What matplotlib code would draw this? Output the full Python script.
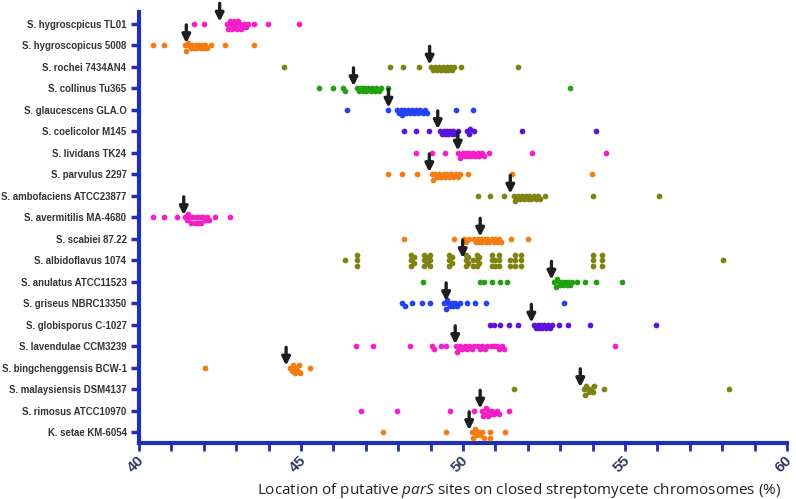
import numpy as np
import matplotlib
matplotlib.use('Agg')
import matplotlib.pyplot as plt

plt.rcParams['font.family'] = ['Liberation Sans', 'DejaVu Sans']
plt.rcParams['mathtext.fontset'] = 'custom'
plt.rcParams['mathtext.rm'] = 'Open Sans'
plt.rcParams['mathtext.it'] = 'Open Sans:italic'

strains = ['S. hygroscpicus TL01', 'S. hygroscopicus 5008', 'S. rochei 7434AN4',
           'S. collinus Tu365', 'S. glaucescens GLA.O', 'S. coelicolor M145',
           'S. lividans TK24', 'S. parvulus 2297', 'S. ambofaciens ATCC23877',
           'S. avermitilis MA-4680', 'S. scabiei 87.22', 'S. albidoflavus 1074',
           'S. anulatus ATCC11523', 'S. griseus NBRC13350', 'S. globisporus C-1027',
           'S. lavendulae CCM3239', 'S. bingchenggensis BCW-1', 'S. malaysiensis DSM4137',
           'S. rimosus ATCC10970', 'K. setae KM-6054']

MAG, ORA, OLI, GRN, BLU, PUR = '#f51fc8', '#f57c12', '#7f8312', '#23a012', '#2243f2', '#5c14dc'
colors = [MAG, ORA, OLI, GRN, BLU, PUR, MAG, ORA, OLI, MAG,
          ORA, OLI, GRN, BLU, PUR, MAG, ORA, OLI, MAG, ORA]

# parS site locations (%) per strain
tl01 = [41.69, 42.02, 42.72, 42.76, 42.80, 42.85, 42.88, 42.92, 42.95, 43.0, 43.03, 43.07,
        43.12, 43.15, 43.2, 43.25, 43.3, 43.35, 43.56, 43.97, 44.93]
h5008 = [40.42, 40.76, 41.42, 41.46, 41.5, 41.55, 41.6, 41.65, 41.7, 41.75, 41.8, 41.85,
         41.9, 41.95, 42.0, 42.05, 42.1, 42.23, 42.65, 43.56]
rochei = [44.48, 47.75, 48.16, 48.64, 49.02, 49.08, 49.13, 49.2, 49.26, 49.32, 49.38, 49.45,
          49.5, 49.55, 49.6, 49.65, 49.72, 49.95, 51.70]
collinus = [45.57, 45.98, 46.3, 46.35, 46.74, 46.8, 46.85, 46.9, 46.95, 47.02, 47.08, 47.15,
            47.2, 47.27, 47.33, 47.4, 47.47, 47.70, 53.31]
glauc = [46.42, 47.67, 47.97, 48.02, 48.08, 48.12, 48.18, 48.23, 48.3, 48.35, 48.42, 48.48,
         48.55, 48.6, 48.68, 48.75, 48.82, 48.88, 49.78, 50.30]
coeli = [48.17, 48.55, 48.94, 49.3, 49.35, 49.4, 49.45, 49.5, 49.55, 49.6, 49.65, 49.7, 49.76,
         49.86, 50.12, 50.2, 50.22, 50.35, 51.82, 54.10]
livid = [48.56, 49.04, 49.45, 49.86, 49.9, 49.95, 50.0, 50.05, 50.1, 50.15, 50.2, 50.25, 50.3,
         50.38, 50.45, 50.5, 50.58, 50.64, 50.79, 52.13, 54.41]
parv = [47.68, 48.12, 48.58, 49.04, 49.08, 49.15, 49.2, 49.27, 49.33, 49.4, 49.45, 49.5, 49.58,
        49.63, 49.7, 49.78, 49.85, 49.92, 50.14, 51.51, 53.97]
ambo = [50.45, 50.84, 51.25, 51.56, 51.6, 51.65, 51.7, 51.75, 51.82, 51.88, 51.95, 52.0, 52.05,
        52.1, 52.18, 52.25, 52.32, 52.38, 52.54, 54.01, 56.04]
averm = [40.42, 40.76, 41.17, 41.43, 41.48, 41.52, 41.58, 41.62, 41.68, 41.72, 41.78, 41.82,
         41.88, 41.92, 41.98, 42.05, 42.1, 42.15, 42.36, 42.80]
scab = [48.17, 49.71, 50.02, 50.1, 50.2, 50.33, 50.4, 50.45, 50.5, 50.55, 50.6, 50.65, 50.7,
        50.75, 50.8, 50.88, 50.95, 51.0, 51.05, 51.1, 51.18, 51.49, 52.02]
albido = [46.35, 46.73, 46.73, 46.73, 48.40, 48.40, 48.40, 48.48, 48.48, 48.80, 48.80, 48.80,
          48.88, 48.88, 48.97, 48.97, 48.97, 49.58, 49.58, 49.58, 49.65, 49.65, 50.08, 50.08,
          50.08, 50.15, 50.15, 50.30, 50.30, 50.42, 50.42, 50.42, 50.50, 50.50, 50.90, 50.90,
          50.90, 51.00, 51.00, 51.10, 51.10, 51.10, 51.45, 51.45, 51.62, 51.62, 51.62, 51.80,
          51.80, 51.80, 54.01, 54.01, 54.01, 54.29, 54.29, 54.29, 58.04]
anul = [48.76, 50.53, 50.66, 50.89, 51.13, 51.36, 52.82, 52.86, 52.9, 52.95, 53.0, 53.05, 53.1,
        53.15, 53.2, 53.25, 53.3, 53.36, 53.52, 53.77, 54.10, 54.91]
gris = [48.12, 48.2, 48.42, 48.73, 48.99, 49.42, 49.46, 49.5, 49.55, 49.6, 49.65, 49.7, 49.75,
        49.82, 49.9, 50.12, 50.38, 50.72, 53.11]
globi = [50.82, 50.95, 51.15, 51.41, 51.69, 52.2, 52.25, 52.3, 52.35, 52.4, 52.45, 52.5, 52.55,
         52.62, 52.68, 52.75, 52.95, 53.24, 53.92, 55.97]
lavend = [46.71, 47.22, 48.35, 49.04, 49.09, 49.32, 49.47, 49.78, 49.82, 49.87, 49.92, 49.97,
          50.05, 50.12, 50.2, 50.28, 50.35, 50.45, 50.52, 50.6, 50.68, 50.75, 50.85, 50.95,
          51.05, 51.12, 51.2, 51.28, 54.68]
bing = [42.05, 44.67, 44.72, 44.76, 44.8, 44.85, 44.9, 44.94, 44.98, 45.27]
malay = [51.58, 53.72, 53.76, 53.8, 53.85, 53.9, 53.95, 54.0, 54.03, 54.34, 58.20]
rimo = [46.86, 47.96, 49.61, 50.33, 50.59, 50.63, 50.68, 50.72, 50.76, 50.8, 50.85, 50.9,
        50.95, 51.05, 51.1, 51.43]
setae = [47.52, 49.48, 50.28, 50.32, 50.36, 50.4, 50.46, 50.52, 50.6, 50.64, 50.84, 50.84, 51.31]

sites = [tl01, h5008, rochei, collinus, glauc, coeli, livid, parv, ambo, averm,
         scab, albido, anul, gris, globi, lavend, bing, malay, rimo, setae]

# arrow positions (%)
arrows = [42.49, 41.46, 48.97, 46.62, 47.70, 49.22, 49.84, 48.96, 51.46, 41.38,
          50.53, 49.99, 52.73, 49.48, 52.11, 49.76, 44.54, 53.62, 50.53, 50.19]

xticks = [40, 45, 50, 55, 60]

W, H = 796, 499
fig = plt.figure(figsize=(W / 100, H / 100), dpi=100)
L, R, B, T = 139 / W, 787 / W, 1 - 443 / H, 1 - 12 / H
ax = fig.add_axes([L, B, R - L, T - B])

n = len(strains)
ylo, yhi = n - 0.5, -0.55
px_x = (R - L) * W / 20.0
px_y = (T - B) * H / (ylo - yhi)
gap = 3.2   # min distance between dot centres, px (dots may overlap a bit)
step = 2.8  # vertical step, px


def swarm(vals):
    # loose beeswarm: nudge overlapping dots up/down, at most 2 layers each side
    placed = []
    offs = []
    for v in vals:
        best = 0.0
        for k in range(5):
            s = (k + 1) // 2 * (1 if k % 2 else -1)
            dy = s * step
            if all((abs(v - pv) * px_x) ** 2 + (dy - pdy) ** 2 >= gap ** 2 for pv, pdy in placed):
                best = dy
                break
        placed.append((v, best))
        offs.append(best / px_y)
    return np.array(offs)


for i, vals in enumerate(sites):
    v = np.array(vals)
    y = i + swarm(vals)
    ax.scatter(v, y, s=17, color=colors[i], linewidths=0, zorder=3)
    ax.annotate('', xy=(arrows[i], i - 0.1), xytext=(arrows[i], i - 0.95),
                arrowprops=dict(arrowstyle='-|>', color='#1e1e1e', lw=2.4,
                                mutation_scale=12, shrinkA=0, shrinkB=0), zorder=4)

ax.set_xlim(40, 60)
ax.set_ylim(ylo, yhi)
ax.set_yticks(range(n))
ax.set_yticklabels(strains, fontsize=6.9, fontweight='bold', color='#333333')
ax.set_xticks(xticks)
ax.set_xticks(range(40, 61), minor=True)
ax.set_xticklabels([])
# rotated x tick labels, nudged a little left so "60" stays inside the figure
for t in xticks:
    ax.annotate(str(t), xy=(t, 0), xycoords=('data', 'axes fraction'),
                xytext=(-2.5, -15.5), textcoords='offset points', rotation=45,
                ha='center', va='center', fontsize=11, fontweight='bold',
                color='#33385e', annotation_clip=False)

spine_c = '#1f2fb4'
for s in ['top', 'right']:
    ax.spines[s].set_visible(False)
for s in ['left', 'bottom']:
    ax.spines[s].set_color(spine_c)
    ax.spines[s].set_linewidth(3)
ax.tick_params(axis='y', length=6, width=2.5, color=spine_c, pad=3)
ax.tick_params(axis='x', which='both', length=6, width=2, color=spine_c, pad=2)

fig.text(257 / W, 1 - 494 / H, r'Location of putative $parS$ sites on closed streptomycete chromosomes (%)',
         fontsize=11, family='Open Sans', color='#222222', ha='left', va='baseline')

fig.savefig('out.png', dpi=100)
